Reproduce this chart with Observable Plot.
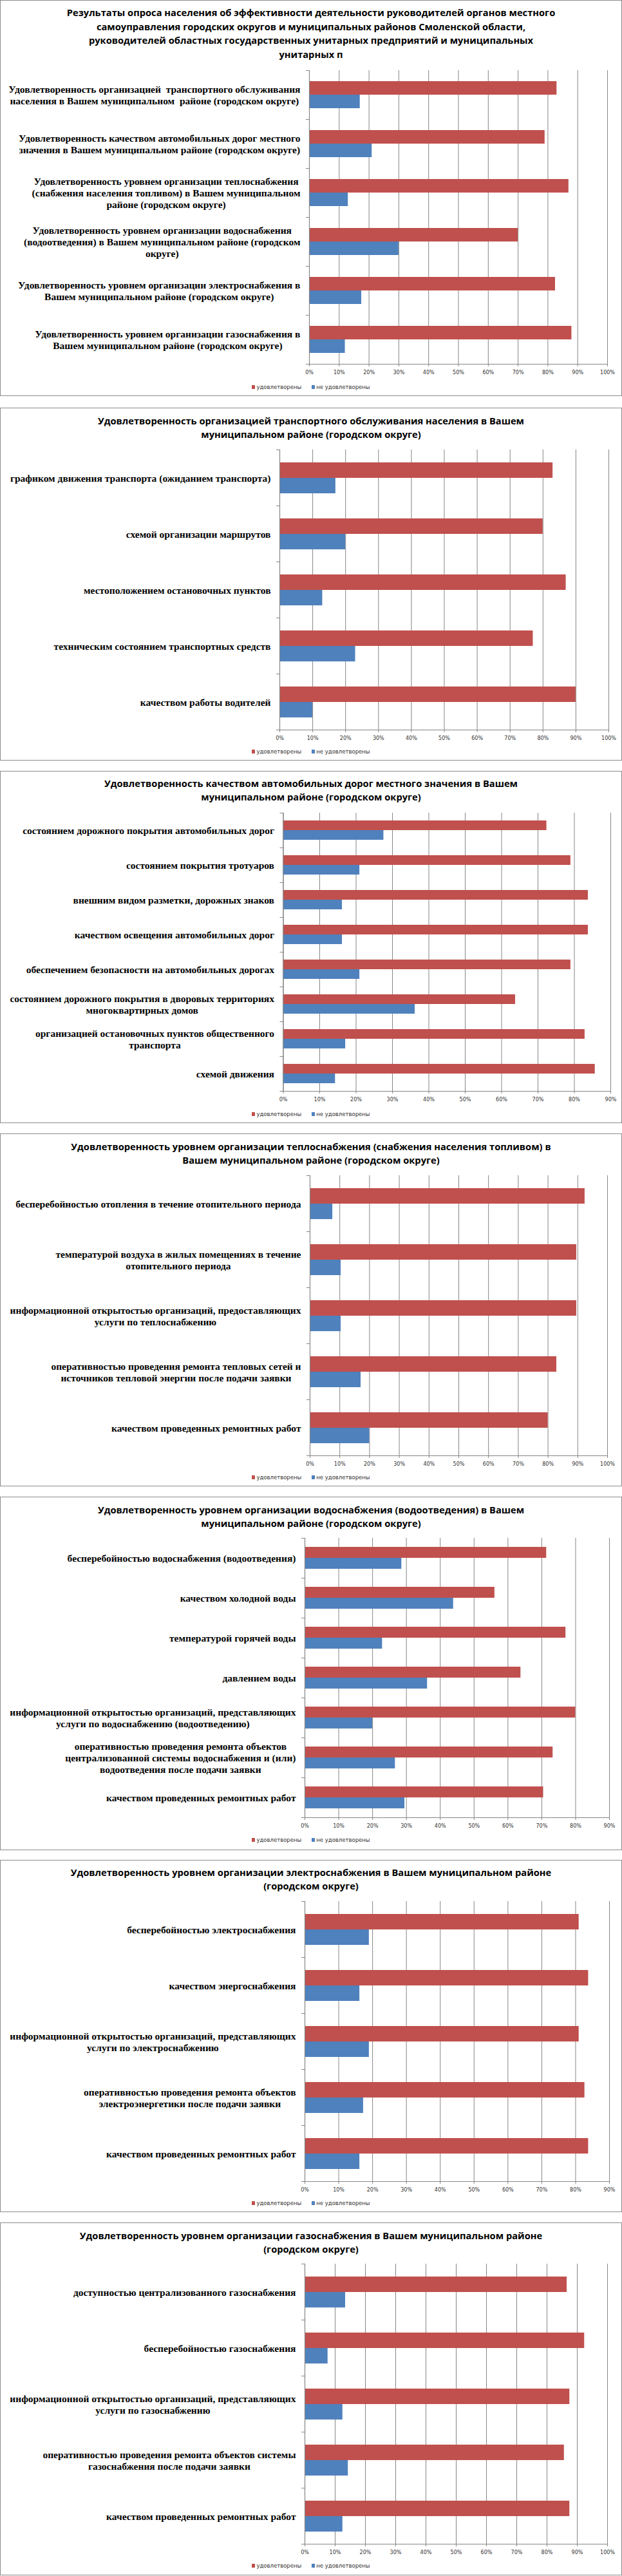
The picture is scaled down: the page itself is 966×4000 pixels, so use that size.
<!DOCTYPE html>
<html><head><meta charset="utf-8">
<script src="https://cdn.jsdelivr.net/npm/d3@7"></script>
<script src="https://cdn.jsdelivr.net/npm/@observablehq/plot@0.6"></script>
<style>
body{margin:0;background:#fff;}
#page{position:relative;width:966px;height:4000px;background:#fff;}
.panel{position:absolute;left:0;width:966px;}
.frame{position:absolute;left:0;top:0;right:0;bottom:0;border:1.5px solid #8c8c8c;box-sizing:border-box;}
.title{position:absolute;left:0;width:966px;text-align:center;font-family:"Open Sans",sans-serif;font-weight:700;font-size:14.7px;line-height:21.5px;white-space:pre;color:#000;}
.legend{position:absolute;left:0;width:966px;display:flex;justify-content:center;align-items:center;font-family:"DejaVu Sans",sans-serif;font-size:8.5px;color:#333;height:12px;}
.legend .item{display:flex;align-items:center;margin:0 8px;}
.legend .sw{width:5px;height:6px;margin-right:2px;}
.panel svg{position:absolute;left:0;}
</style></head><body><div id="page"></div>
<script>
const series = ["удовлетворены", "не удовлетворены"];
const colors = ["#C0504D", "#4F81BD"];

const title1 = "Результаты опроса населения об эффективности деятельности руководителей органов местного\nсамоуправления городских округов и муниципальных районов Смоленской области,\nруководителей областных государственных унитарных предприятий и муниципальных\nунитарных п";
const cats1 = [
  "Удовлетворенность организацией  транспортного обслуживания\nнаселения в Вашем муниципальном  районе (городском округе)",
  "Удовлетворенность качеством автомобильных дорог местного\nзначения в Вашем муниципальном районе (городском округе)",
  "Удовлетворенность уровнем организации теплоснабжения\n(снабжения населения топливом) в Вашем муниципальном\nрайоне (городском округе)",
  "Удовлетворенность уровнем организации водоснабжения\n(водоотведения) в Вашем муниципальном районе (городском\nокруге)",
  "Удовлетворенность уровнем организации электроснабжения в\nВашем муниципальном районе (городском округе)",
  "Удовлетворенность уровнем организации газоснабжения в\nВашем муниципальном районе (городском округе)"
];
const sat1 = [83, 79, 87, 70, 82.5, 88];
const unsat1 = [17, 21, 13, 30, 17.5, 12];

const title2 = "Удовлетворенность организацией транспортного обслуживания населения в Вашем\nмуниципальном районе (городском округе)";
const cats2 = [
  "графиком движения транспорта (ожиданием транспорта)",
  "схемой организации маршрутов",
  "местоположением остановочных пунктов",
  "техническим состоянием транспортных средств",
  "качеством работы водителей"
];
const sat2 = [83, 80, 87, 77, 90];
const unsat2 = [17, 20, 13, 23, 10];

const title3 = "Удовлетворенность качеством автомобильных дорог местного значения в Вашем\nмуниципальном районе (городском округе)";
const cats3 = [
  "состоянием дорожного покрытия автомобильных дорог",
  "состоянием покрытия тротуаров",
  "внешним видом разметки, дорожных знаков",
  "качеством освещения автомобильных дорог",
  "обеспечением безопасности на автомобильных дорогах",
  "состоянием дорожного покрытия в дворовых территориях\nмногоквартирных домов",
  "организацией остановочных пунктов общественного\nтранспорта",
  "схемой движения"
];
const sat3 = [72.4, 79, 83.8, 83.8, 79, 63.8, 82.9, 85.7];
const unsat3 = [27.6, 21, 16.2, 16.2, 21, 36.2, 17.1, 14.3];

const title4 = "Удовлетворенность уровнем организации теплоснабжения (снабжения населения топливом) в\nВашем муниципальном районе (городском округе)";
const cats4 = [
  "бесперебойностью отопления в течение отопительного периода",
  "температурой воздуха в жилых помещениях в течение\nотопительного периода",
  "информационной открытостью организаций, предоставляющих\nуслуги по теплоснабжению",
  "оперативностью проведения ремонта тепловых сетей и\nисточников тепловой энергии после подачи заявки",
  "качеством проведенных ремонтных работ"
];
const sat4 = [92.4, 89.6, 89.6, 82.9, 80];
const unsat4 = [7.6, 10.4, 10.4, 17.1, 20];

const title5 = "Удовлетворенность уровнем организации водоснабжения (водоотведения) в Вашем\nмуниципальном районе (городском округе)";
const cats5 = [
  "бесперебойностью водоснабжения (водоотведения)",
  "качеством холодной воды",
  "температурой горячей воды",
  "давлением воды",
  "информационной открытостью организаций, представляющих\nуслуги по водоснабжению (водоотведению)",
  "оперативностью проведения ремонта объектов\nцентрализованной системы водоснабжения и (или)\nводоотведения после подачи заявки",
  "качеством проведенных ремонтных работ"
];
const sat5 = [71.4, 56.1, 77.1, 63.8, 80, 73.3, 70.5];
const unsat5 = [28.6, 43.9, 22.9, 36.2, 20, 26.7, 29.5];

const title6 = "Удовлетворенность уровнем организации электроснабжения в Вашем муниципальном районе\n(городском округе)";
const cats6 = [
  "бесперебойностью электроснабжения",
  "качеством энергоснабжения",
  "информационной открытостью организаций, представляющих\nуслуги по электроснабжению",
  "оперативностью проведения ремонта объектов\nэлектроэнергетики после подачи заявки",
  "качеством проведенных ремонтных работ"
];
const sat6 = [81, 83.8, 81, 82.7, 83.8];
const unsat6 = [19, 16.2, 19, 17.3, 16.2];

const title7 = "Удовлетворенность уровнем организации газоснабжения в Вашем муниципальном районе\n(городском округе)";
const cats7 = [
  "доступностью централизованного газоснабжения",
  "бесперебойностью газоснабжения",
  "информационной открытостью организаций, представляющих\nуслуги по газоснабжению",
  "оперативностью проведения ремонта объектов системы\nгазоснабжения после подачи заявки",
  "качеством проведенных ремонтных работ"
];
const sat7 = [86.6, 92.4, 87.5, 85.7, 87.5];
const unsat7 = [13.4, 7.6, 12.5, 14.3, 12.5];

const xMax = [100, 100, 90, 100, 90, 90, 100];

const panels = [
  {title: title1, cats: cats1, sat: sat1, unsat: unsat1},
  {title: title2, cats: cats2, sat: sat2, unsat: unsat2},
  {title: title3, cats: cats3, sat: sat3, unsat: unsat3},
  {title: title4, cats: cats4, sat: sat4, unsat: unsat4},
  {title: title5, cats: cats5, sat: sat5, unsat: unsat5},
  {title: title6, cats: cats6, sat: sat6, unsat: unsat6},
  {title: title7, cats: cats7, sat: sat7, unsat: unsat7}
];

// layout (pixels)
const layout = [
  {top: 0,    height: 615, titleTop: 9,   plotTop: 107, plotBottom: 567, legendY: 601, ml: 480,   mr: 23},
  {top: 633,  height: 548, titleTop: 9.5, plotTop: 64,  plotBottom: 500, legendY: 534, ml: 434,   mr: 21},
  {top: 1197, height: 547, titleTop: 8.5, plotTop: 63,  plotBottom: 499, legendY: 533, ml: 439.5, mr: 18},
  {top: 1760, height: 548, titleTop: 9.5, plotTop: 64,  plotBottom: 500, legendY: 534, ml: 481,   mr: 23},
  {top: 2324, height: 549, titleTop: 9.5, plotTop: 63,  plotBottom: 499, legendY: 533, ml: 473,   mr: 20},
  {top: 2888, height: 547, titleTop: 8.5, plotTop: 63,  plotBottom: 499, legendY: 533, ml: 473,   mr: 20},
  {top: 3451, height: 548, titleTop: 9.5, plotTop: 63,  plotBottom: 499, legendY: 533, ml: 473,   mr: 23}
];

const page = document.getElementById("page");
const gridColor = "#868686";

panels.forEach((p, k) => {
  const L = layout[k];
  const max = xMax[k];
  const div = document.createElement("div");
  div.className = "panel";
  div.style.top = L.top + "px";
  div.style.height = L.height + "px";
  page.appendChild(div);

  const frame = document.createElement("div");
  frame.className = "frame";
  div.appendChild(frame);

  const t = document.createElement("div");
  t.className = "title";
  t.style.top = L.titleTop + "px";
  t.textContent = p.title;
  div.appendChild(t);

  const rows = p.cats.flatMap((c, i) => [
    {cat: c, s: series[0], v: p.sat[i]},
    {cat: c, s: series[1], v: p.unsat[i]}
  ]);
  const ticks = d3.range(0, max + 1, 10);
  const mt = 6, mb = 30;
  const innerH = L.plotBottom - L.plotTop;
  const innerW = 966 - L.ml - L.mr;

  const svg = Plot.plot({
    width: 966,
    height: mt + innerH + mb,
    marginTop: mt, marginBottom: mb, marginLeft: L.ml, marginRight: L.mr,
    style: {background: "transparent", overflow: "visible"},
    x: {domain: [0, max], axis: null, label: null},
    y: {domain: series, paddingInner: 0, paddingOuter: 0.75, axis: null, label: null},
    fy: {domain: p.cats, padding: 0, axis: null, label: null},
    color: {domain: series, range: colors},
    marks: [
      Plot.gridX({ticks, stroke: gridColor, strokeOpacity: 1, strokeWidth: 1}),
      Plot.barX(rows, {x: "v", y: "s", fy: "cat", fill: "s"}),
      Plot.ruleX([0], {stroke: gridColor, strokeWidth: 1.2}),
      Plot.frame({anchor: "top", insetLeft: -5, insetRight: innerW, stroke: gridColor}),
      Plot.frame({anchor: "bottom", facetAnchor: "bottom", insetLeft: -5, stroke: gridColor, strokeWidth: 1.2}),
      Plot.axisX({ticks, tickSize: 4, tickPadding: 5.5, tickFormat: d => d + "%", label: null,
        fontSize: 8, fontFamily: "DejaVu Sans", stroke: gridColor, fill: "#333"}),
      Plot.text(p.cats, {fy: d => d, text: d => d, frameAnchor: "left", dx: -14,
        textAnchor: "end", lineAnchor: "middle", lineHeight: 1.16,
        fontSize: 15.5, fontWeight: "bold", fontFamily: "Liberation Serif", fill: "#000"})
    ]
  });
  svg.style.top = (L.plotTop - mt) + "px";
  div.appendChild(svg);

  // centre the lines of multi-line category labels within their block (as in the source)
  svg.querySelectorAll("text").forEach(te => {
    const spans = te.querySelectorAll("tspan");
    if (spans.length < 2) return;
    const w = Math.max(...Array.from(spans, s => s.getComputedTextLength()));
    te.setAttribute("text-anchor", "middle");
    spans.forEach(s => s.setAttribute("x", (parseFloat(s.getAttribute("x")) || 0) - w / 2));
  });

  const lg = document.createElement("div");
  lg.className = "legend";
  lg.style.top = (L.legendY - 6) + "px";
  series.forEach((s, i) => {
    const it = document.createElement("span");
    it.className = "item";
    const sw = document.createElement("span");
    sw.className = "sw";
    sw.style.background = colors[i];
    it.appendChild(sw);
    it.appendChild(document.createTextNode(s));
    lg.appendChild(it);
  });
  div.appendChild(lg);
});
</script>
</body></html>
